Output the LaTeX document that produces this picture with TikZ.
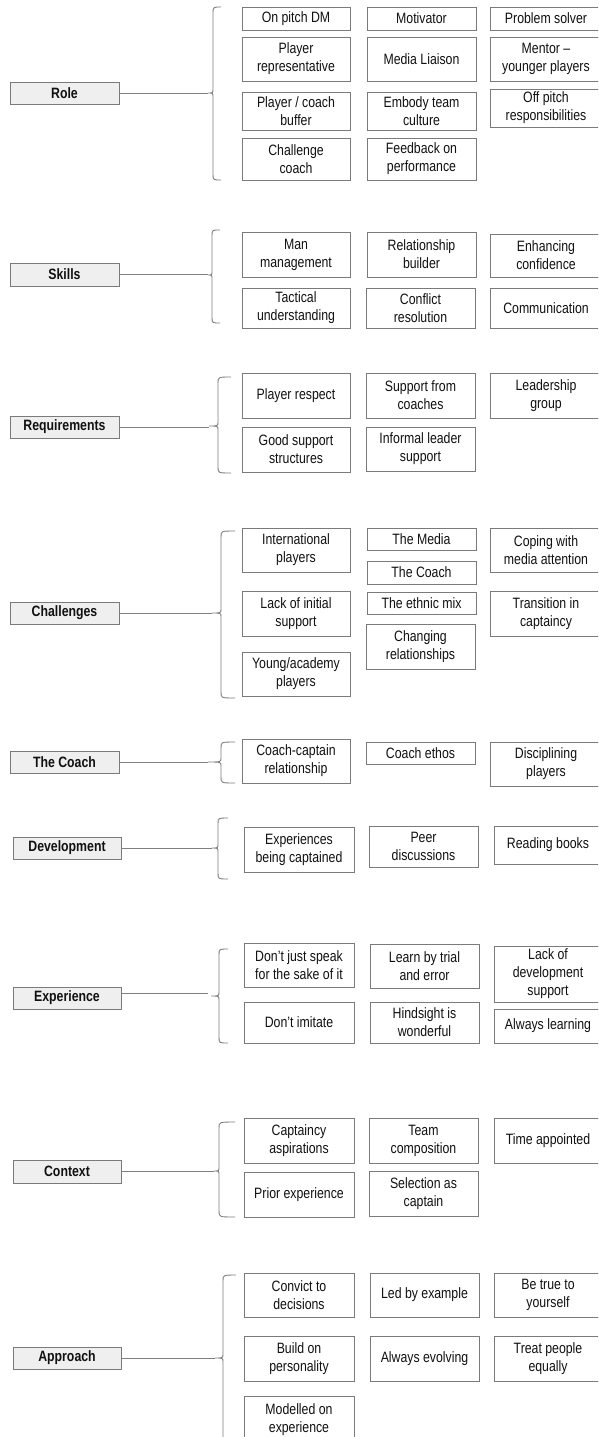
\documentclass[tikz,border=0pt]{standalone}
\usepackage{fontspec}
\setmainfont{Liberation Sans}[FakeStretch=0.82]
\definecolor{lc}{HTML}{7F7F7F}
\definecolor{bc}{HTML}{7A7A7A}
\definecolor{cf}{HTML}{EFEFEF}
\definecolor{tc}{HTML}{111111}
\tikzset{
 item/.style={draw=bc, line width=0.9pt, fill=white, inner sep=0pt, align=center, text=tc, font=\fontsize{15}{18}\selectfont},
 cat/.style={item, fill=cf, font=\fontsize{15}{18}\selectfont\bfseries},
 conn/.style={draw=lc, line width=0.9pt},
}
\newcommand{\bx}[7][item]{%
 \pgfmathsetmacro{\bxcx}{(#3+#5)/2}\pgfmathsetmacro{\bxcy}{(#4+#6)/2}%
 \pgfmathsetmacro{\bxw}{#5-#3}\pgfmathsetmacro{\bxh}{#6-#4}%
 \node[#1, minimum width=\bxw pt, minimum height=\bxh pt] (#2) at (\bxcx,\bxcy) {#7};}
\newcommand{\brc}[6]{% xl, xm, xr, top, mid, bot
 \draw[conn] (#3,#4) .. controls (#2,#4) .. (#2,#4+6) -- (#2,#5-4) .. controls (#2,#5) .. (#1,#5) .. controls (#2,#5) .. (#2,#5+4) -- (#2,#6-6) .. controls (#2,#6) .. (#3,#6);}
\begin{document}
\begin{tikzpicture}[x=1pt,y=-1pt]
\useasboundingbox (0,0) rectangle (598,1437);
\fill[white] (0,0) rectangle (598,1437);
\clip (0,0) rectangle (598,1437);

% ---------- Role
\bx[cat]{role}{10}{82}{119}{104}{Role}
\coordinate (roleT) at (208,93);
\draw[conn] (role.east) -- (role.east -| roleT);
\brc{208}{213}{221}{7}{93}{180}
\bx{r1}{242}{7}{350}{30}{On pitch DM}
\bx{r2}{367}{7}{476}{30}{Motivator}
\bx{r3}{490}{7}{602}{30}{Problem solver}
\bx{r4}{242}{37}{350}{81}{Player\\representative}
\bx{r5}{367}{37}{476}{81}{Media Liaison}
\bx{r6}{490}{37}{602}{81}{Mentor –\\younger players}
\bx{r7}{242}{92}{350}{130}{Player / coach\\buffer}
\bx{r8}{367}{92}{476}{130}{Embody team\\culture}
\bx{r9}{490}{89}{602}{127}{Off pitch\\responsibilities}
\bx{r10}{242}{138}{350}{180}{Challenge\\coach}
\bx{r11}{367}{138}{476}{180}{Feedback on\\performance}

% ---------- Skills
\bx[cat]{skills}{10}{263}{119}{286}{Skills}
\coordinate (skillsT) at (208,275);
\draw[conn] (skills.east) -- (skills.east -| skillsT);
\brc{208}{212}{220}{230}{275}{323}
\bx{s1}{242}{232}{350}{277}{Man\\management}
\bx{s2}{367}{232}{476}{277}{Relationship\\builder}
\bx{s3}{490}{234}{602}{277}{Enhancing\\confidence}
\bx{s4}{242}{288}{350}{328}{Tactical\\understanding}
\bx{s5}{366}{288}{475}{328}{Conflict\\resolution}
\bx{s6}{490}{288}{602}{328}{Communication}

% ---------- Requirements
\bx[cat]{req}{10}{416}{119}{438}{Requirements}
\coordinate (reqT) at (209,426);
\draw[conn] (req.east) -- (req.east -| reqT);
\brc{209}{218}{231}{377}{426}{473}
\bx{q1}{242}{373}{350}{418}{Player respect}
\bx{q2}{366}{373}{475}{418}{Support from\\coaches}
\bx{q3}{490}{373}{602}{418}{Leadership\\group}
\bx{q4}{242}{427}{350}{472}{Good support\\structures}
\bx{q5}{366}{427}{475}{471}{Informal leader\\support}

% ---------- Challenges
\bx[cat]{chal}{10}{602}{119}{624}{Challenges}
\coordinate (chalT) at (212,613);
\draw[conn] (chal.east) -- (chal.east -| chalT);
\brc{212}{221}{235}{531}{613}{698}
\bx{c1}{242}{528}{350}{572}{International\\players}
\bx{c2}{242}{591}{350}{636}{Lack of initial\\support}
\bx{c3}{242}{652}{350}{696}{Young/academy\\players}
\bx{c4}{367}{528}{476}{550}{The Media}
\bx{c5}{367}{561}{476}{584}{The Coach}
\bx{c6}{367}{592}{476}{614}{The ethnic mix}
\bx{c7}{366}{624}{475}{669}{Changing\\relationships}
\bx{c8}{490}{528}{602}{572}{Coping with\\media attention}
\bx{c9}{490}{591}{602}{636}{Transition in\\captaincy}

% ---------- The Coach
\bx[cat]{coach}{10}{751}{119}{773}{The Coach}
\coordinate (coachT) at (208,762);
\draw[conn] (coach.east) -- (coach.east -| coachT);
\brc{208}{221}{235}{742}{762}{783}
\bx{h1}{242}{739}{350}{783}{Coach-captain\\relationship}
\bx{h2}{366}{742}{475}{764}{Coach ethos}
\bx{h3}{490}{742}{602}{786}{Disciplining\\players}

% ---------- Development
\bx[cat]{dev}{13}{837}{121}{859}{Development}
\coordinate (devT) at (212,848);
\draw[conn] (dev.east) -- (dev.east -| devT);
\brc{212}{218}{228}{818}{848}{879}
\bx{d1}{244}{827}{354}{872}{Experiences\\being captained}
\bx{d2}{369}{826}{478}{867}{Peer\\discussions}
\bx{d3}{494}{826}{602}{864}{Reading books}

% ---------- Experience
\bx[cat]{exp}{13}{987}{121}{1009}{Experience}
\coordinate (expT) at (208,993);
\draw[conn] ([yshift=5pt]exp.east) -- ([yshift=5pt]exp.east -| expT);
\brc{211}{219}{228}{949}{996}{1043}
\bx{e1}{244}{943}{354}{987}{Don’t just speak\\for the sake of it}
\bx{e2}{370}{944}{479}{988}{Learn by trial\\and error}
\bx{e3}{494}{946}{602}{1002}{Lack of\\development\\support}
\bx{e4}{244}{1002}{354}{1043}{Don’t imitate}
\bx{e5}{370}{1002}{479}{1043}{Hindsight is\\wonderful}
\bx{e6}{494}{1009}{602}{1043}{Always learning}

% ---------- Context
\bx[cat]{ctx}{13}{1160}{121}{1183}{Context}
\coordinate (ctxT) at (214,1171);
\draw[conn] (ctx.east) -- (ctx.east -| ctxT);
\brc{214}{219}{235}{1122}{1171}{1217}
\bx{x1}{244}{1118}{354}{1163}{Captaincy\\aspirations}
\bx{x2}{369}{1118}{478}{1163}{Team\\composition}
\bx{x3}{494}{1118}{602}{1163}{Time appointed}
\bx{x4}{244}{1172}{354}{1217}{Prior experience}
\bx{x5}{369}{1171}{478}{1216}{Selection as\\captain}

% ---------- Approach
\bx[cat]{app}{13}{1347}{121}{1369}{Approach}
\coordinate (appT) at (215,1358);
\draw[conn] (app.east) -- (app.east -| appT);
\draw[conn] (236,1275) .. controls (223,1275) .. (223,1281) -- (223,1354) .. controls (223,1358) .. (215,1358) .. controls (223,1358) .. (223,1362) -- (223,1445);
\bx{a1}{244}{1273}{354}{1317}{Convict to\\decisions}
\bx{a2}{370}{1273}{479}{1317}{Led by example}
\bx{a3}{494}{1273}{602}{1317}{Be true to\\yourself}
\bx{a4}{244}{1336}{354}{1381}{Build on\\personality}
\bx{a5}{370}{1336}{479}{1381}{Always evolving}
\bx{a6}{494}{1336}{602}{1381}{Treat people\\equally}
\bx{a7}{244}{1396}{354}{1444}{Modelled on\\experience}
\end{tikzpicture}
\end{document}
